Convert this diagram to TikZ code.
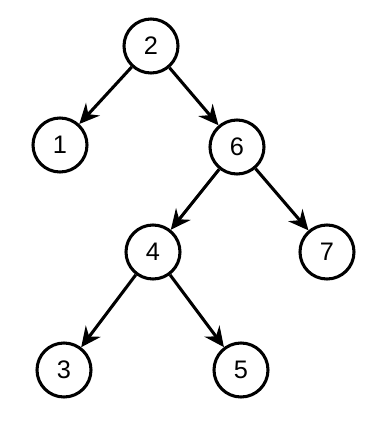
\documentclass[tikz,border=0pt]{standalone}
\usepackage{fontspec}
\setmainfont{Liberation Sans}
\usepackage{tikz}
\usetikzlibrary{arrows.meta}
\tikzset{
  knot/.style={circle,draw=black,fill=white,line width=2.3pt,minimum size=40.5pt,inner sep=0pt,font=\fontsize{19}{22}\selectfont},
  arr/.style={-{Stealth[length=15pt,width=14pt,inset=5pt]},line width=2.3pt,draw=black},
}
\begin{document}
\begin{tikzpicture}[x=0.75pt,y=-0.75pt]
  \useasboundingbox (0,0) rectangle (371,436);
  \node[knot] (n2) at (151,46) {2};
  \node[knot] (n1) at (60,145) {1};
  \node[knot] (n6) at (237,147) {6};
  \node[knot] (n4) at (153,252) {4};
  \node[knot] (n7) at (327,252) {7};
  \node[knot] (n3) at (64,370) {3};
  \node[knot] (n5) at (241,370) {5};
  \draw[arr] (n2) -- (n1);
  \draw[arr] (n2) -- (n6);
  \draw[arr] (n6) -- (n4);
  \draw[arr] (n6) -- (n7);
  \draw[arr] (n4) -- (n3);
  \draw[arr] (n4) -- (n5);
\end{tikzpicture}
\end{document}
